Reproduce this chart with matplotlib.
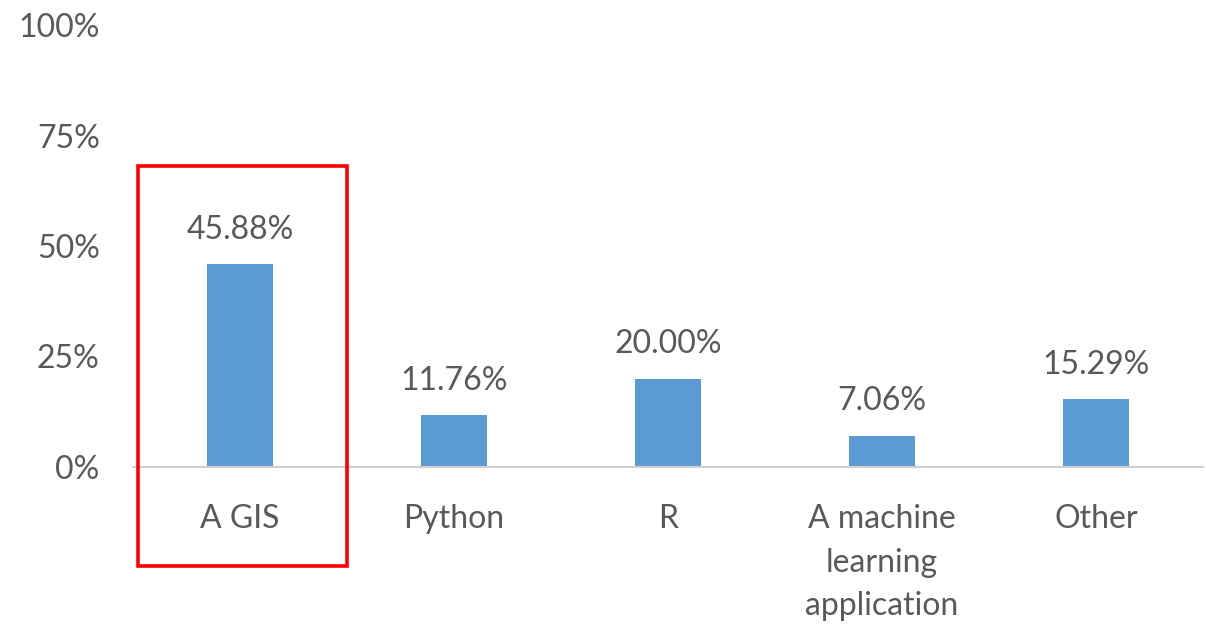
import matplotlib
matplotlib.use("Agg")
import matplotlib.pyplot as plt
from matplotlib.patches import Rectangle

categories = ["A GIS", "Python", "R", "A machine\nlearning\napplication", "Other"]
values = [45.88, 11.76, 20.00, 7.06, 15.29]
yticks = [0, 25, 50, 75, 100]
ytick_labels = ["0%", "25%", "50%", "75%", "100%"]

plt.rcParams['font.family'] = ['Lato', 'DejaVu Sans']
text_color = "#595959"
bar_color = "#5B9BD5"
fs = 23

fig = plt.figure(figsize=(12.06, 6.29), dpi=100)
ax = fig.add_axes([133/1206, (629-467)/629, 1070/1206, 442/629])

x = list(range(len(categories)))
bars = ax.bar(x, values, width=0.31, color=bar_color, zorder=2)
ax.set_xlim(-0.5, len(categories) - 0.5)
ax.set_ylim(0, 100)
ax.set_yticks(yticks)
ax.set_yticklabels(ytick_labels)
ax.set_xticks(x)
ax.set_xticklabels(categories, linespacing=1.55)
ax.tick_params(axis='y', length=0, pad=24, labelsize=fs, labelcolor=text_color)
ax.tick_params(axis='x', length=0, pad=27, labelsize=fs, labelcolor=text_color)
for s in ["top", "right", "left"]:
    ax.spines[s].set_visible(False)
ax.spines["bottom"].set_color("#D0D0D0")
ax.spines["bottom"].set_linewidth(1.5)

for xi, v in zip(x, values):
    ax.annotate(f"{v:.2f}%", (xi, v), xytext=(0, 14), textcoords="offset points",
                ha="center", va="bottom", fontsize=fs, color=text_color)

rect = Rectangle((138/1206, (629-566)/629), 209/1206, 400/629, transform=fig.transFigure,
                 fill=False, edgecolor="#FF0000", linewidth=2.6, zorder=5)
fig.patches.append(rect)

fig.savefig("out.png", dpi=100)
